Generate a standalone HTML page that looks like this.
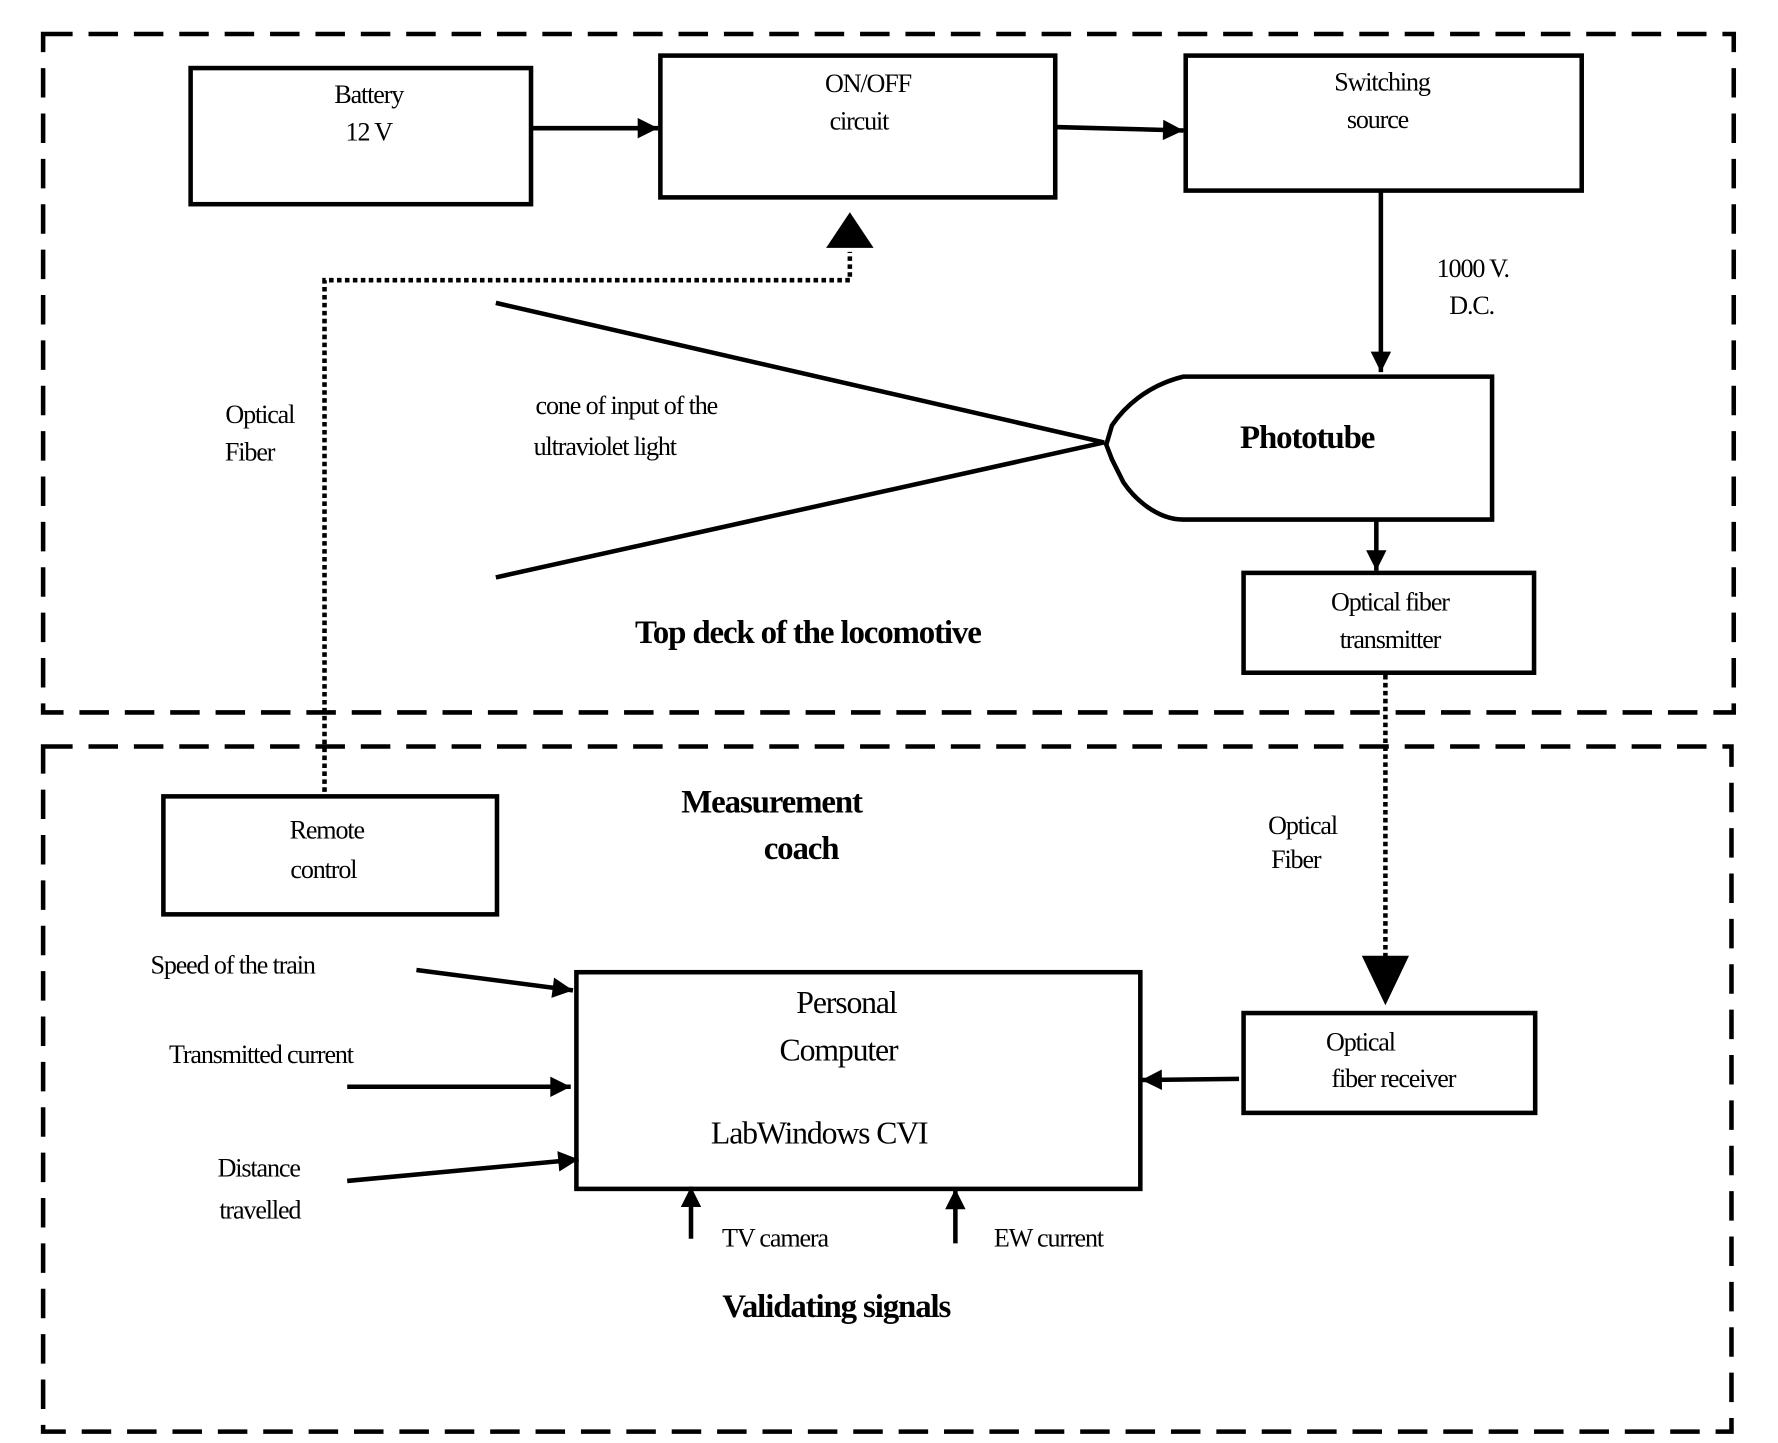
<!DOCTYPE html>
<html><head><style>html,body{margin:0;padding:0;background:#fff}svg{display:block}</style></head><body>
<svg width="1778" height="1443" viewBox="0 0 1567 1272" preserveAspectRatio="none" xmlns="http://www.w3.org/2000/svg" font-family="Liberation Serif, serif" font-size="23" fill="none" stroke="#000">
<defs>
<marker id="b" viewBox="0 0 10 10" markerWidth="24" markerHeight="18" refX="10" refY="5" orient="auto" markerUnits="userSpaceOnUse"><path d="M0,0L10,5L0,10z" fill="#000" stroke="none"/></marker></defs>
<g stroke-width="4" stroke-dasharray="26,14">
<path d="M38,30H1528V628H38Z"/>
<path d="M38,658H1526V1262H38Z"/>
</g>
<g stroke-width="4">
<rect x="168" y="60" width="300" height="120"/>
<rect x="582" y="49" width="348" height="125"/>
<rect x="1045" y="49" width="349" height="119"/>
<rect x="1096" y="505" width="256" height="88"/>
<rect x="144" y="702" width="294" height="104"/>
<rect x="508" y="857" width="497" height="191"/>
<rect x="1096" y="893" width="257" height="88"/>
<path d="M1043,332H1315V458H1043C1020,458 1000,440 990,425L980,405L975,392L980,375C990,360 1010,340 1043,332Z"/>
</g>
<g stroke-width="4" marker-end="url(#b)">
<path d="M468,113H580"/>
<path d="M930,112L1043,115"/>
<path d="M1217,168V328"/>
<path d="M1213,458V503"/>
<path d="M1092,951L1006,952"/>
<path d="M367,855L505,873"/>
<path d="M306,958H503"/>
<path d="M306,1041L510,1022"/>
<path d="M609,1092V1046"/>
<path d="M842,1096V1048"/>
</g>
<path d="M437,267L973,390L437,509" stroke-width="4"/>
<g stroke-width="4" stroke-dasharray="4,3">
<path d="M286,698V247H749V222"/>
<path d="M1221,595V845"/>
</g>
<path d="M729,218L749,188L769,218Z" fill="#000"/>
<path d="M1201,843L1241,843L1221,885Z" fill="#000"/>
<g fill="#000" stroke="none" text-anchor="middle" letter-spacing="-1">
<text x="325" y="91">Battery</text><text x="325" y="124">12 V</text>
<text x="765" y="81">ON/OFF</text><text x="757" y="114">circuit</text>
<text x="1218" y="80">Switching</text><text x="1214" y="113">source</text>
<text x="1298" y="244">1000 V.</text><text x="1297" y="277">D.C.</text>
<text x="229" y="373">Optical</text><text x="220" y="406">Fiber</text>
<text x="552" y="365">cone of input of the</text><text x="533" y="401">ultraviolet light</text>
<text x="1152" y="395" font-weight="bold" font-size="29">Phototube</text>
<text x="1225" y="538">Optical fiber</text><text x="1225" y="571">transmitter</text>
<text x="712" y="567" font-weight="bold" font-size="29">Top deck of the locomotive</text>
<text x="680" y="716" font-weight="bold" font-size="29">Measurement</text><text x="706" y="757" font-weight="bold" font-size="29">coach</text>
<text x="288" y="739">Remote</text><text x="285" y="774">control</text>
<text x="1148" y="735">Optical</text><text x="1142" y="765">Fiber</text>
<text x="205" y="858">Speed of the train</text>
<text x="230" y="937">Transmitted current</text>
<text x="228" y="1037">Distance</text><text x="229" y="1074">travelled</text>
<text x="746" y="893" font-size="28">Personal</text><text x="739" y="935" font-size="28">Computer</text>
<text x="722" y="1008" font-size="28">LabWindows CVI</text>
<text x="1199" y="926">Optical</text><text x="1228" y="958">fiber receiver</text>
<text x="683" y="1099">TV camera</text><text x="924" y="1099">EW current</text>
<text x="737" y="1161" font-weight="bold" font-size="29">Validating signals</text>
</g>
</svg>
</body></html>
